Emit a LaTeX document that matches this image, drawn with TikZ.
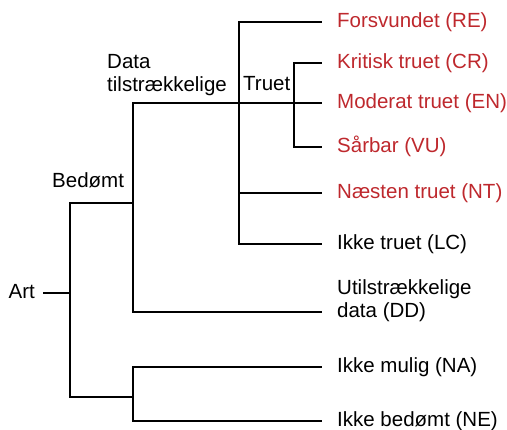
\documentclass[tikz,border=0pt]{standalone}
\usepackage{fontspec}
\setmainfont{Liberation Sans}
\usepackage{tikz}
\definecolor{redlist}{RGB}{190,40,45}
\tikzset{
  lbl/.style={inner sep=0pt, font=\fontsize{20.5}{23}\selectfont, text height=17pt, text depth=5pt},
  leaf/.style={lbl, anchor=west, align=left},
  threat/.style={leaf, text=redlist},
  branch/.style={line width=2pt},
  twig/.style={line width=2pt, shorten >=15pt}
}

\begin{document}
\begin{tikzpicture}[x=1pt,y=-1pt]
\useasboundingbox (0,0) rectangle (507,430);
\coordinate (root) at (70,293);
\coordinate (bed) at (133,203);
\coordinate (data) at (239,103);
\coordinate (truet) at (294,103);
\coordinate (ikb) at (133,397);
\node[lbl, anchor=east] (art) at (35,293){Art};
\node[lbl, anchor=base west] (bedlbl) at (52,188){Bedømt};
\node[lbl, anchor=south west, align=left] (datalbl) at (107,97){Data\\tilstrækkelige};
\node[lbl, anchor=base west] (truetlbl) at (243,91){Truet};
\node[threat] (re) at (337,22){Forsvundet (RE)};
\node[threat] (cr) at (337,63){Kritisk truet (CR)};
\node[threat] (en) at (337,103){Moderat truet (EN)};
\node[threat] (vu) at (337,147){Sårbar (VU)};
\node[threat] (nt) at (337,193){Næsten truet (NT)};
\node[leaf] (lc) at (337,244){Ikke truet (LC)};
\node[leaf] (dd) at (337,312){Utilstrækkelige\\data (DD)};
\node[leaf] (na) at (337,367){Ikke mulig (NA)};
\node[leaf] (ne) at (337,421){Ikke bedømt (NE)};
\draw[branch, shorten <=8pt] (art) -- (root);
\foreach \from/\to in
{root/bed,root/ikb,bed/data,data/truet}
\draw[branch] (\from) |- (\to);
\foreach \from/\to in
{data/re,data/nt,data/lc,truet/cr,truet/en,truet/vu,bed/dd,ikb/na,ikb/ne}
\draw[twig] (\from) |- (\to);
\end{tikzpicture}
\end{document}
